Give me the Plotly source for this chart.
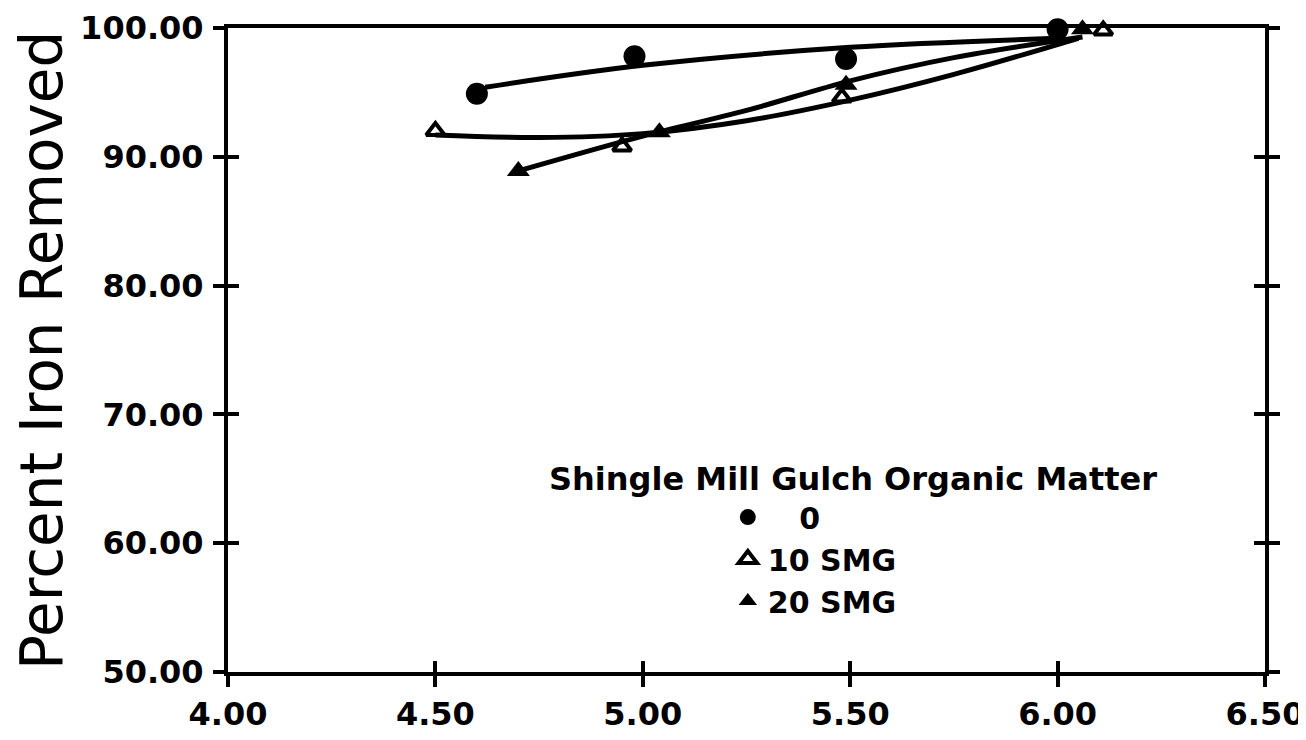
import plotly.graph_objects as go

# ---- data ----
x_tickvals = [4.0, 4.5, 5.0, 5.5, 6.0, 6.5]
x_ticktext = ["4.00", "4.50", "5.00", "5.50", "6.00", "6.50"]
y_tickvals = [50, 60, 70, 80, 90, 100]
y_ticktext = ["50.00", "60.00", "70.00", "80.00", "90.00", "100.00"]

series_names = ["\u00a0\u00a0\u00a00", "10 SMG", "20 SMG"]

ph_0 = [4.60, 4.98, 5.49, 6.00]
fe_0 = [94.9, 97.8, 97.6, 99.9]
ph_10 = [4.50, 4.95, 5.48, 6.11]
fe_10 = [92.0, 90.8, 94.6, 99.8]
ph_20 = [4.70, 5.04, 5.49, 6.06]
fe_20 = [88.9, 91.9, 95.6, 99.9]

# fitted curves as drawn in the picture
fit_ph_0 = [4.62, 5.00, 5.50, 6.00]
fit_fe_0 = [95.4, 97.1, 98.5, 99.2]
fit_ph_10 = [4.50, 4.75, 5.00, 5.25, 5.50, 5.75, 6.05]
fit_fe_10 = [91.7, 91.5, 91.8, 92.8, 94.4, 96.4, 99.2]
fit_ph_20 = [4.70, 5.00, 5.25, 5.50, 5.75, 6.06]
fit_fe_20 = [88.9, 91.6, 93.6, 95.9, 97.7, 99.3]

legend_title = "Shingle Mill Gulch Organic Matter"
y_title = "Percent Iron Removed"

# ---- styling ----
FONT = "DejaVu Sans"
LW = 5
AXW = 4
TL = 11

fig = go.Figure()

for fx, fy in [(fit_ph_0, fit_fe_0), (fit_ph_10, fit_fe_10), (fit_ph_20, fit_fe_20)]:
    fig.add_trace(go.Scatter(x=fx, y=fy, mode="lines",
                             line=dict(color="black", width=LW, shape="spline"),
                             showlegend=False, hoverinfo="skip", cliponaxis=False))

fig.add_trace(go.Scatter(x=ph_0, y=fe_0, mode="markers", name=series_names[0],
                         marker=dict(symbol="circle", size=22, color="black"),
                         cliponaxis=False))
fig.add_trace(go.Scatter(x=ph_10, y=fe_10, mode="markers", name=series_names[1],
                         marker=dict(symbol="triangle-up-open", size=16, color="black",
                                     line=dict(color="black", width=4)),
                         cliponaxis=False))
fig.add_trace(go.Scatter(x=ph_20, y=fe_20, mode="markers", name=series_names[2],
                         marker=dict(symbol="triangle-up", size=20, color="black"),
                         cliponaxis=False))

# helper empty trace so the overlay axes (inner halves of the cross ticks) are drawn
fig.add_trace(go.Scatter(x=[None], y=[None], xaxis="x2", yaxis="y2", mode="markers",
                         showlegend=False, hoverinfo="skip"))

tickfont = dict(family=FONT, size=32, color="black", weight="bold")

fig.update_layout(
    width=1298, height=724,
    margin=dict(l=220, r=41, t=20, b=60, autoexpand=False),
    paper_bgcolor="white", plot_bgcolor="white",
    showlegend=True,
    legend=dict(x=0.482, y=0.281, xanchor="left", yanchor="top",
                font=dict(family=FONT, size=30, color="black", weight="bold"),
                bgcolor="rgba(0,0,0,0)", itemsizing="trace",
                tracegroupgap=0, itemwidth=30),
    xaxis=dict(range=[4.0, 6.5], tickvals=x_tickvals, ticktext=x_ticktext,
               showgrid=False, zeroline=False, showline=True, linewidth=AXW,
               linecolor="black", mirror=True, ticks="outside", ticklen=TL,
               tickwidth=AXW, tickcolor="black", tickfont=tickfont,
               ticklabeloverflow="allow"),
    yaxis=dict(range=[50, 100], tickvals=y_tickvals, ticktext=y_ticktext,
               showgrid=False, zeroline=False, showline=True, linewidth=AXW,
               linecolor="black", mirror="ticks", ticks="outside", ticklen=TL,
               tickwidth=AXW, tickcolor="black", tickfont=tickfont,
               ticklabelstandoff=3, ticklabeloverflow="allow"),
    xaxis2=dict(range=[4.0, 6.5], tickvals=x_tickvals, overlaying="x", anchor="y",
                showticklabels=False, showgrid=False, zeroline=False, showline=False,
                ticks="inside", ticklen=TL, tickwidth=AXW, tickcolor="black"),
    yaxis2=dict(range=[50, 100], tickvals=y_tickvals, overlaying="y", anchor="x",
                showticklabels=False, showgrid=False, zeroline=False, showline=False,
                ticks="inside", ticklen=TL, tickwidth=AXW, tickcolor="black",
                mirror="ticks"),
    annotations=[
        dict(text=y_title, textangle=-90, xref="paper", yref="paper",
             x=-0.1794, y=0.5, xanchor="center", yanchor="middle", showarrow=False,
             font=dict(family=FONT, size=58, color="black")),
        dict(text=legend_title, xref="paper", yref="paper",
             x=0.3076, y=0.3, xanchor="left", yanchor="middle", showarrow=False,
             font=dict(family=FONT, size=32, color="black", weight="bold")),
    ],
)

fig.write_html("out.html")
